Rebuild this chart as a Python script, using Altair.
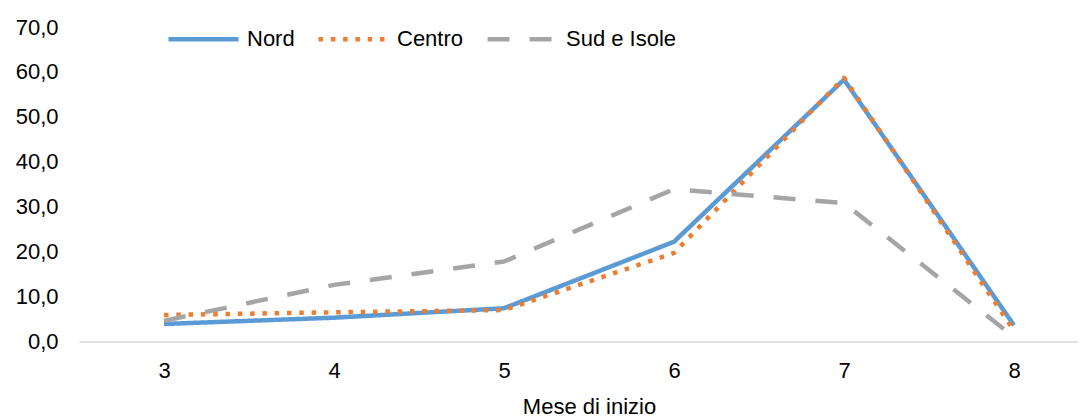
import altair as alt
import pandas as pd

months = [3, 4, 5, 6, 7, 8]
series = ["Nord", "Centro", "Sud e Isole"]
nord = [3.9, 5.3, 7.4, 22.2, 58.3, 3.6]
centro = [5.9, 6.5, 7.0, 19.7, 58.7, 2.4]
sud = [4.6, 12.6, 17.8, 33.9, 30.8, 1.0]
colors = ["#5B9BD5", "#ED7D31", "#A5A5A5"]
dashes = [[1, 0], [4.5, 7.8], [22, 20]]
y_ticks = [0, 10, 20, 30, 40, 50, 60, 70]

rows = []
for name, vals in zip(series, [nord, centro, sud]):
    for m, v in zip(months, vals):
        rows.append({"Mese": m, "Valore": v, "Serie": name, "ord": series.index(name)})
df = pd.DataFrame(rows)

FONT = "Liberation Sans"

chart = alt.Chart(df).mark_line(strokeWidth=4.5, strokeCap="butt", strokeJoin="round").encode(
    x=alt.X("Mese:Q",
            scale=alt.Scale(domain=[2.5, 2.5 + 999 / 170], nice=False, zero=False),
            axis=alt.Axis(values=months, format="d", title="Mese di inizio", grid=False, ticks=False,
                          domainColor="#D9D9D9", domainWidth=1.5, labelPadding=19,
                          labelFontSize=22, labelFont=FONT, labelColor="#000000",
                          titleFontSize=22, titleFont=FONT, titleColor="#000000", titleFontWeight="normal",
                          titleX=510, titleY=72, titleBaseline="alphabetic")),
    y=alt.Y("Valore:Q",
            scale=alt.Scale(domain=[0, 70], nice=False),
            axis=alt.Axis(values=y_ticks, title=None, grid=False, ticks=False, domain=False,
                          labelExpr="replace(format(datum.value, '.1f'), '.', ',')",
                          labelPadding=21, labelFontSize=22, labelFont=FONT, labelColor="#000000")),
    color=alt.Color("Serie:N", sort=series,
                    scale=alt.Scale(domain=series, range=colors),
                    legend=alt.Legend(orient="none", legendX=87, legendY=-25.5, direction="horizontal",
                                      title=None, symbolType="stroke", symbolSize=4900,
                                      symbolStrokeWidth=4.5, labelFontSize=22, labelFont=FONT,
                                      labelColor="#000000", columnPadding=14, labelOffset=6,
                                      padding=0, rowPadding=0)),
    strokeDash=alt.StrokeDash("Serie:N", sort=series,
                              scale=alt.Scale(domain=series, range=dashes)),
    order=alt.Order("ord:Q"),
).properties(
    width=999,
    height=314.5,
    autosize=alt.AutoSizeParams(type="none"),
    padding={"left": 71, "top": 19, "right": 0, "bottom": 74},
).configure_view(stroke=None)

chart.save("out.html", embed_options={"renderer": "svg", "actions": False})
